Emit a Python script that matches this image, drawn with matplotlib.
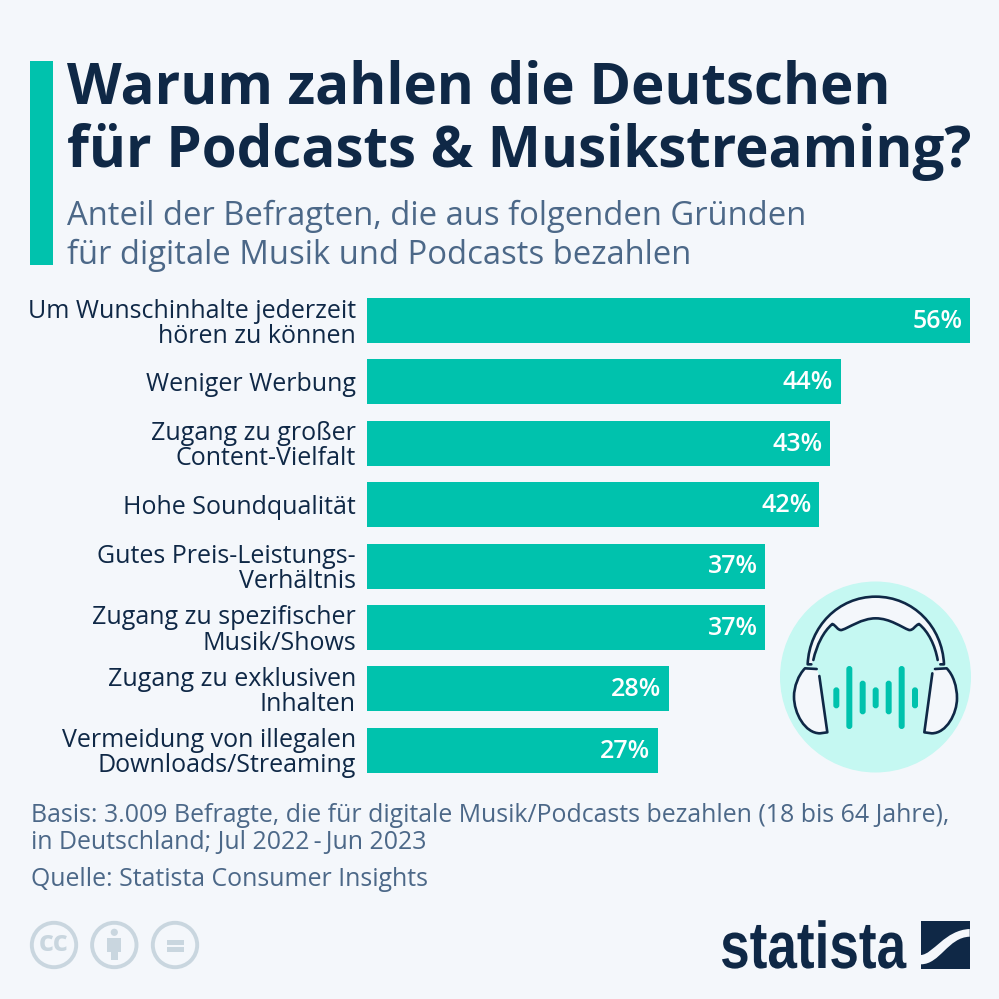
import matplotlib
matplotlib.use("Agg")
import matplotlib.pyplot as plt
from matplotlib.patches import Rectangle, Circle, PathPatch, FancyBboxPatch
from matplotlib.patheffects import AbstractPathEffect
from matplotlib.path import Path
from matplotlib.transforms import Affine2D

categories = ["Um Wunschinhalte jederzeit\nhören zu können", "Weniger Werbung",
              "Zugang zu großer\nContent-Vielfalt", "Hohe Soundqualität",
              "Gutes Preis-Leistungs-\nVerhältnis", "Zugang zu spezifischer\nMusik/Shows",
              "Zugang zu exklusiven\nInhalten", "Vermeidung von illegalen\nDownloads/Streaming"]
values = [56, 44, 43, 42, 37, 37, 28, 27]
title_lines = ["Warum zahlen die Deutschen", "für Podcasts & Musikstreaming?"]
subtitle_lines = ["Anteil der Befragten, die aus folgenden Gründen", "für digitale Musik und Podcasts bezahlen"]
footer_lines = ["Basis: 3.009 Befragte, die für digitale Musik/Podcasts bezahlen (18 bis 64 Jahre),",
                "in Deutschland; Jul 2022\u2009-\u2009Jun 2023", "Quelle: Statista Consumer Insights"]

BG = "#f4f7fb"; TEAL = "#00c2ad"; DARK = "#0f2846"; MUTED = "#4c6888"; LIGHT = "#c5f8f2"; CC = "#c9d6df"
plt.rcParams["font.family"] = ["Open Sans", "DejaVu Sans"]

W = H = 999
fig = plt.figure(figsize=(W/100, H/100), dpi=100, facecolor=BG)
bg = fig.add_axes([0, 0, 1, 1]); bg.set_xlim(0, W); bg.set_ylim(H, 0); bg.axis("off")

# Accent bar and headings
bg.add_patch(Rectangle((30, 61), 23, 204, color=TEAL, lw=0))
for y, s in zip((88, 152), title_lines):
    bg.text(67, y, s, fontsize=40.7, fontweight="bold", color=DARK, va="center", ha="left")
for y, s in zip((216, 255), subtitle_lines):
    bg.text(67, y, s, fontsize=23.55, color=MUTED, va="center", ha="left")
for y, s in zip((815, 843, 879), footer_lines):
    bg.text(31, y, s, fontsize=17.95, color=MUTED, va="center", ha="left")

# Bars
x0, x1, yt, yb = 367, 970, 289.8, 781
ax = fig.add_axes([x0/W, 1-yb/H, (x1-x0)/W, (yb-yt)/H])
ax.set_facecolor("none")
pos = list(range(len(values)))
bars = ax.barh(pos, values, height=45/61.4, color=TEAL, lw=0)
ax.set_xlim(0, 56); ax.set_ylim(len(values)-0.5, -0.5)
ax.set_xticks([]); ax.set_yticks(pos, categories)
ax.tick_params(axis="y", length=0, pad=8, labelsize=18, labelcolor=DARK)
for lab in ax.get_yticklabels():
    lab.set_linespacing(1.0)
for s in ax.spines.values():
    s.set_visible(False)
for p, v in zip(pos, values):
    ax.annotate(f"{v}%", (v, p), xytext=(-5.6, -0.6), textcoords="offset points", ha="right", va="center",
                color="white", fontsize=18, fontweight="semibold")

# Headphone icon (decoration, pixel coordinates taken from the 3x crop)
def Z(x, y):
    return (770 + x/3, 600 + y/3)

def P(segs, fc="none", ec=DARK, lw=1.9):
    v, c = [], []
    for i, s in enumerate(segs):
        if i == 0:
            v.append(Z(*s)); c.append(Path.MOVETO)
        elif len(s) == 2:
            v.append(Z(*s)); c.append(Path.LINETO)
        else:
            v += [Z(*s[:2]), Z(*s[2:4]), Z(*s[4:6])]; c += [Path.CURVE4]*3
    bg.add_patch(PathPatch(Path(v, c), fc=fc, ec=ec, lw=lw, capstyle="round", joinstyle="round"))

bg.add_patch(Circle((875.5, 677), 95.5, color=LIGHT, lw=0))

outer = [(124, 193), (113, 193), (118, 80, 205, -10, 317, -10), (430, -10, 517, 80, 522, 193), (511, 193)]
inner = [(503, 180), (495, 135, 475, 95, 447, 72), (435, 76, 430, 92, 417, 90),
         (395, 82, 360, 55, 317, 55), (275, 55, 240, 82, 215, 90), (203, 92, 198, 76, 187, 72),
         (160, 95, 140, 135, 130, 180)]
P(outer + inner, fc=BG, ec="none", lw=0)
P(outer); P(inner)
# ear cups
P([(140, 207), (105, 205), (85, 225, 72, 260, 72, 290), (72, 340, 105, 400, 150, 400),
   (172, 397), (148, 228)], fc=BG)
P([(495, 207), (530, 205), (550, 225, 561, 260, 561, 295), (561, 340, 530, 400, 485, 400),
   (463, 397), (487, 220)], fc=BG)
# sound-wave bars
wave_x = [199, 238, 278, 317, 356, 395, 435]
wave_top = [262, 198, 242, 262, 242, 198, 262]
wave_bot = [325, 387, 343, 325, 343, 387, 325]
for x, t, b in zip(wave_x, wave_top, wave_bot):
    xc, t_ = Z(x, t); _, b_ = Z(x, b)
    bg.add_patch(FancyBboxPatch((xc, t_+3), 0, b_-t_-6, boxstyle="round,pad=3", fc=TEAL, ec="none"))

# Creative Commons badges
for cx in (54, 114.3, 175):
    bg.add_patch(Circle((cx, 945), 22.2, fc="none", ec=CC, lw=2.8))
bg.text(54, 943.5, "cc", fontsize=21, fontweight="bold", color=CC, ha="center", va="center")
bg.add_patch(Circle((114.3, 932.3), 3.6, color=CC, lw=0))
bg.add_patch(Rectangle((107.3, 938), 13.4, 13.7, color=CC, lw=0))
bg.add_patch(Rectangle((110.7, 950), 7.3, 10.3, color=CC, lw=0))
bg.add_patch(Rectangle((166.7, 939.7), 17.3, 5, color=CC, lw=0))
bg.add_patch(Rectangle((166.7, 947.3), 17.3, 4.6, color=CC, lw=0))

# Statista logo: bold sans squeezed horizontally around its right edge
class SquashX(AbstractPathEffect):
    def __init__(self, factor, anchor):
        super().__init__()
        self.factor, self.anchor = factor, anchor
    def draw_path(self, renderer, gc, tpath, affine, rgbFace=None):
        a = affine + Affine2D().translate(-self.anchor, 0).scale(self.factor, 1).translate(self.anchor, 0)
        renderer.draw_path(gc, tpath, a, rgbFace)

bg.text(906, 968, "statista", family="Liberation Sans", fontweight="bold", fontsize=47.5, color=DARK,
        ha="right", va="baseline", path_effects=[SquashX(0.805, 906)])
bg.add_patch(Rectangle((921, 920.7), 48.7, 48.3, color=DARK, lw=0))
v = [(921, 955), (933, 954.3), (945, 930), (969.7, 929), (969.7, 936.7),
     (948, 937.3), (940, 964.3), (921, 964.3), (921, 955)]
c = [Path.MOVETO, Path.CURVE4, Path.CURVE4, Path.CURVE4, Path.LINETO,
     Path.CURVE4, Path.CURVE4, Path.CURVE4, Path.LINETO]
bg.add_patch(PathPatch(Path(v, c), fc=BG, ec="none"))

fig.savefig("out.png", dpi=100, facecolor=BG)
